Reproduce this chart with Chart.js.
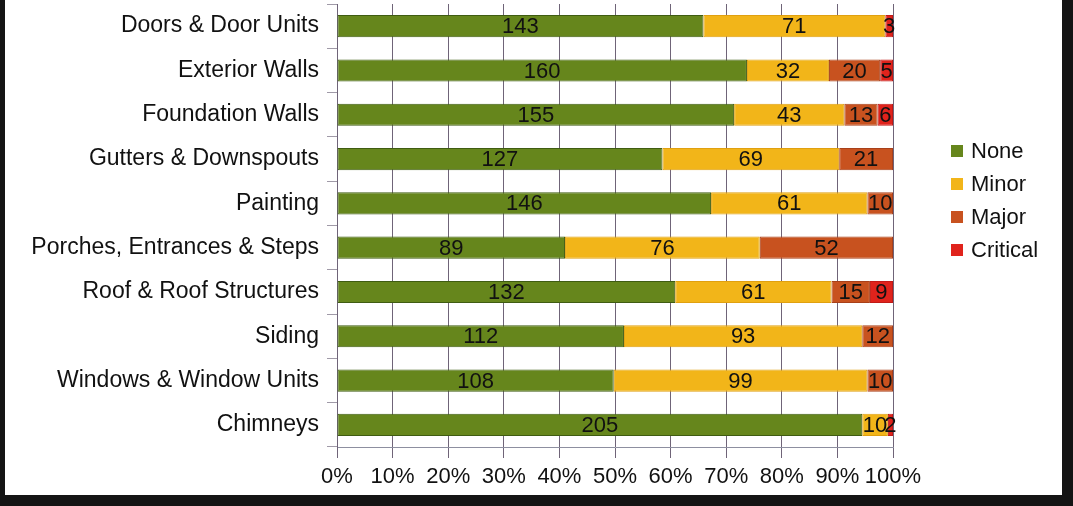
<!DOCTYPE html>
<html>
<head>
<meta charset="utf-8">
<script src="https://cdn.jsdelivr.net/npm/chart.js@4/dist/chart.umd.min.js"></script>
<style>
  html, body { margin: 0; padding: 0; }
  body { width: 1073px; height: 506px; background: #141414; position: relative; overflow: hidden; }
  #frame { position: absolute; left: 5px; top: 0; width: 1057px; height: 495px; background: #fff; }
  #legend { position: absolute; left: 951px; top: 134px; font: 22px "Liberation Sans", Arial, sans-serif; color: #111; }
  .item { height: 33px; display: flex; align-items: center; }
  .box { width: 12px; height: 12px; margin-right: 8px; }
</style>
</head>
<body>
<div id="frame"><canvas id="chart" width="1057" height="495"></canvas></div>
<div id="legend"></div>
<script>
const categories = ["Doors & Door Units", "Exterior Walls", "Foundation Walls", "Gutters & Downspouts", "Painting",
  "Porches, Entrances & Steps", "Roof & Roof Structures", "Siding", "Windows & Window Units", "Chimneys"];
const seriesNames = ["None", "Minor", "Major", "Critical"];
const none     = [143, 160, 155, 127, 146, 89, 132, 112, 108, 205];
const minor    = [71, 32, 43, 69, 61, 76, 61, 93, 99, 10];
const major    = [0, 20, 13, 21, 10, 52, 15, 12, 10, 0];
const critical = [3, 5, 6, 0, 0, 0, 9, 0, 0, 2];
const xTicks = [0, 10, 20, 30, 40, 50, 60, 70, 80, 90, 100];

const counts = [none, minor, major, critical];
const fills = ["#66861c", "#f2b519", "#c8521f", "#e0231c"];
const edges = ["#3f5c12", "#e0a010", "#a8401a", "#c01a16"];
const totals = categories.map((_, i) => counts.reduce((s, arr) => s + arr[i], 0));

const FONT = "Liberation Sans";

// labels with the raw counts in the middle of each segment
const valueLabels = {
  id: "valueLabels",
  afterDatasetsDraw(chart) {
    const c = chart.ctx;
    c.save();
    c.font = `22px "${FONT}"`;
    c.fillStyle = "#111";
    c.textAlign = "center";
    c.textBaseline = "middle";
    chart.data.datasets.forEach((ds, i) => {
      chart.getDatasetMeta(i).data.forEach((bar, j) => {
        const v = counts[i][j];
        if (!v) return;
        const p = bar.getCenterPoint();
        c.fillText(String(v), p.x, p.y + 1);
      });
    });
    c.restore();
  }
};

const ctx = document.getElementById("chart").getContext("2d");
const chart = new Chart(ctx, {
  type: "bar",
  data: {
    labels: categories,
    datasets: seriesNames.map((name, i) => ({
      label: name,
      data: counts[i].map((v, j) => v / totals[j] * 100),
      backgroundColor: fills[i],
      borderColor: edges[i],
      borderWidth: 1,
      borderSkipped: false,
      barPercentage: 0.5,
      categoryPercentage: 1
    }))
  },
  options: {
    indexAxis: "y",
    responsive: false,
    animation: false,
    layout: { padding: { top: 4, right: 169, left: 0, bottom: 0 } },
    plugins: { legend: { display: false }, tooltip: { enabled: false } },
    scales: {
      x: {
        stacked: true,
        min: 0,
        max: 100,
        afterFit: (s) => { s.height = 48; },
        afterBuildTicks: (s) => { s.ticks = xTicks.map(v => ({ value: v })); },
        grid: { color: "#6f6478", lineWidth: 1, tickLength: 11 },
        border: { color: "#8d8fa0", width: 1 },
        ticks: { color: "#111", padding: 6, autoSkip: false, minRotation: 0, maxRotation: 0,
          font: { family: FONT, size: 22 }, callback: (v) => v + "%" }
      },
      y: {
        stacked: true,
        afterFit: (s) => { s.width = 332; s.paddingTop = 0; s.paddingBottom = 0; },
        grid: { drawOnChartArea: false, color: "#a09aa8", tickLength: 10, offset: true },
        border: { color: "#6f6478", width: 1 },
        ticks: { color: "#111", padding: 8, font: { family: FONT, size: 23 } }
      }
    }
  },
  plugins: [valueLabels]
});

// legend on the right
const legend = document.getElementById("legend");
seriesNames.forEach((name, i) => {
  const row = document.createElement("div");
  row.className = "item";
  row.innerHTML = `<span class="box" style="background:${fills[i]}"></span><span>${name}</span>`;
  legend.appendChild(row);
});
</script>
</body>
</html>
